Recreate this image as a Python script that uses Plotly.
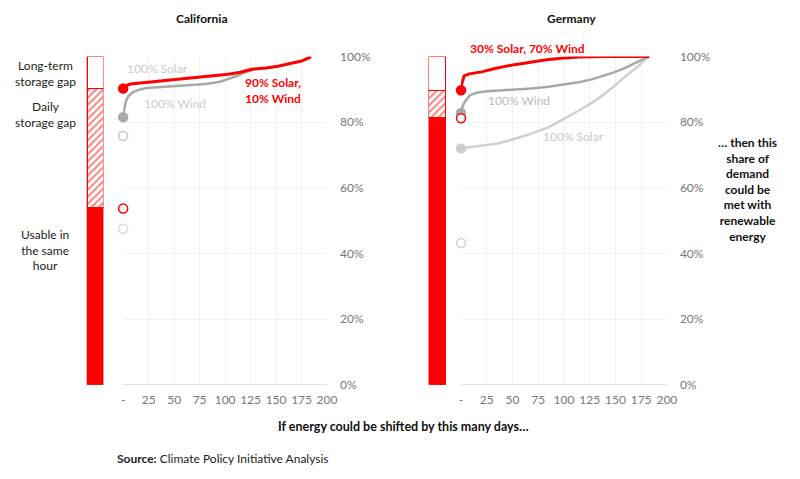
import plotly.graph_objects as go

W, H = 800, 479
FONT = "Lato"
RED = "#ff0000"
GRAY = "#a8a8a8"
LGRAY = "#cfcfcf"

# ---------------- data ----------------
days_ticks = [0, 25, 50, 75, 100, 125, 150, 175, 200]
days_ticktext = ["-", "25", "50", "75", "100", "125", "150", "175", "200"]
pct_ticks = [0, 20, 40, 60, 80, 100]
pct_ticktext = ["0%", "20%", "40%", "60%", "80%", "100%"]

# California, 90% Solar / 10% Wind
ca_mix_days = [0, 2, 7, 20, 35, 55, 75, 90, 103, 115, 126, 140, 152, 165, 175, 183, 184]
ca_mix_vals = [90.2, 91.0, 91.6, 92.0, 92.5, 93.1, 93.6, 94.0, 94.6, 95.2, 96.1, 96.5, 97.0, 97.9, 98.6, 99.7, 100.0]
# California, 100% Wind
ca_wind_days = [0, 1, 3, 6, 10, 16, 23, 40, 55, 70, 81, 95, 103, 112, 119, 129, 140, 152]
ca_wind_vals = [81.5, 84.0, 86.7, 88.2, 89.2, 89.9, 90.4, 90.7, 91.0, 91.3, 91.6, 92.3, 93.1, 94.1, 95.1, 96.1, 96.5, 97.0]
# California, same-hour values (open circles)
ca_same_hour_wind = 75.8
ca_same_hour_mix = 53.7
ca_same_hour_solar = 47.5

# Germany, 30% Solar / 70% Wind
de_mix_days = [0, 1, 3, 8, 20, 35, 52, 68, 83, 100, 115, 140, 183]
de_mix_vals = [89.7, 92.0, 94.1, 94.7, 95.3, 96.5, 97.5, 98.3, 99.0, 99.5, 99.8, 100.0, 100.0]
# Germany, 100% Wind
de_wind_days = [0, 1.5, 3.8, 8.6, 16, 26, 40, 51.7, 68, 83.5, 100, 115.5, 128, 137.8, 150, 160, 172, 182.5]
de_wind_vals = [82.8, 84.8, 86.2, 88.2, 89.0, 89.4, 89.7, 89.9, 90.2, 90.7, 91.4, 92.2, 93.1, 94.1, 95.3, 96.6, 98.3, 100.0]
# Germany, 100% Solar
de_solar_days = [0, 15, 35.7, 50, 67.7, 85, 99.5, 115, 131.4, 146, 160, 172, 182.5]
de_solar_vals = [72.0, 72.6, 73.5, 74.7, 76.4, 78.4, 80.8, 83.6, 86.7, 90.2, 94.0, 97.0, 100.0]
# Germany, same-hour values (open circles)
de_same_hour_mix = 81.2
de_same_hour_solar = 43.2

# Storage bars: same hour / daily gap / long-term gap
bar_segments = ["Usable in the same hour", "Daily storage gap", "Long-term storage gap"]
ca_bar = [54.0, 90.3 - 54.0, 100 - 90.3]
de_bar = [81.4, 89.7 - 81.4, 100 - 89.7]


def px(x):
    return x / W


def py(y):
    return 1 - y / H


fig = go.Figure()

YDOM = [90 / H, 429 / H]


def line(xs, ys, color, width, xa, ya):
    fig.add_trace(go.Scatter(x=xs, y=ys, mode="lines", line=dict(color=color, width=width),
                             xaxis=xa, yaxis=ya, hoverinfo="skip", showlegend=False, cliponaxis=False))


def dot(y, color, filled, xa, ya):
    fig.add_trace(go.Scatter(x=[0], y=[y], mode="markers",
                             marker=dict(size=9, color=color if filled else "white",
                                         line=dict(color=color, width=1.5)),
                             xaxis=xa, yaxis=ya, hoverinfo="skip", showlegend=False, cliponaxis=False))


# California
line(ca_wind_days, ca_wind_vals, GRAY, 2.5, "x", "y")
line(ca_mix_days, ca_mix_vals, RED, 3, "x", "y")
dot(ca_wind_vals[0], GRAY, True, "x", "y")
dot(ca_mix_vals[0], RED, True, "x", "y")
dot(ca_same_hour_wind, "#c4c4c4", False, "x", "y")
dot(ca_same_hour_mix, RED, False, "x", "y")
dot(ca_same_hour_solar, "#dddddd", False, "x", "y")

# Germany
line(de_solar_days, de_solar_vals, LGRAY, 2.5, "x2", "y2")
line(de_wind_days, de_wind_vals, GRAY, 2.5, "x2", "y2")
line(de_mix_days, de_mix_vals, RED, 3, "x2", "y2")
dot(de_solar_vals[0], LGRAY, True, "x2", "y2")
dot(de_wind_vals[0], GRAY, True, "x2", "y2")
dot(de_mix_vals[0], RED, True, "x2", "y2")
dot(de_same_hour_mix, RED, False, "x2", "y2")
dot(de_same_hour_solar, "#d0d0d0", False, "x2", "y2")

# Bars
fills = [
    dict(color=RED),
    dict(color="white", pattern=dict(shape="/", fgcolor=RED, bgcolor="white", size=5, solidity=0.4)),
    dict(color="white"),
]
for bar_vals, xa, ya in [(ca_bar, "x3", "y3"), (de_bar, "x4", "y4")]:
    for name, v, f in zip(bar_segments, bar_vals, fills):
        m = dict(f)
        m["line"] = dict(color=RED, width=1.2)
        fig.add_trace(go.Bar(x=[0], y=[v], width=1, marker=m, name=name, xaxis=xa, yaxis=ya,
                             hoverinfo="skip", showlegend=False))

xcommon = dict(range=[0, 200], tickvals=days_ticks, ticktext=days_ticktext, showgrid=True,
               gridcolor="#f0f0f0", gridwidth=1, zeroline=False, showline=False,
               tickfont=dict(family=FONT, size=12, color="#777"), ticks="", ticklabelstandoff=6,
               fixedrange=True)
ycommon = dict(range=[0, 100], domain=YDOM, tickvals=pct_ticks, ticktext=pct_ticktext, side="right",
               showgrid=True, gridcolor="#f0f0f0", zeroline=True, zerolinecolor="#e2e2e2",
               zerolinewidth=1, tickfont=dict(family=FONT, size=12, color="#777"), ticks="",
               ticklabelstandoff=12, showline=False)

bar_x = dict(range=[-0.52, 0.52], visible=False, fixedrange=True)
bar_y = dict(range=[0, 100], domain=YDOM, visible=False)

fig.update_layout(
    width=W, height=H, margin=dict(l=0, r=0, t=0, b=0),
    paper_bgcolor="white", plot_bgcolor="white",
    barmode="stack", showlegend=False,
    font=dict(family=FONT, size=12, color="#222"),
    xaxis=dict(xcommon, domain=[123 / W, 330 / W], anchor="y"),
    yaxis=dict(ycommon, anchor="x"),
    xaxis2=dict(xcommon, domain=[466 / W, 675 / W], anchor="y2"),
    yaxis2=dict(ycommon, anchor="x2"),
    xaxis3=dict(bar_x, domain=[86 / W, 103 / W], anchor="y3"),
    yaxis3=dict(bar_y, anchor="x3"),
    xaxis4=dict(bar_x, domain=[433 / W, 451 / W], anchor="y4"),
    yaxis4=dict(bar_y, anchor="x4"),
)


def ann(text, x, y, color="#222", size=12, bold=False, align="center", xanchor="center"):
    t = f"<b>{text}</b>" if bold else text
    fig.add_annotation(text=t, x=px(x), y=py(y), xref="paper", yref="paper", showarrow=False,
                       xanchor=xanchor, yanchor="middle", align=align,
                       font=dict(family=FONT, size=size, color=color))


ann("California", 203, 11, "#111", 12, True)
ann("Germany", 578, 11, "#111", 12, True)

ann("Long-term<br>storage gap", 44, 68)
ann("Daily<br>storage gap", 44, 110)
ann("Usable in<br>the same<br>hour", 44, 250)

ann("100% Solar", 158, 62, "#cccccc")
ann("100% Wind", 176, 99, "#cccccc")
ann("90% Solar,<br>10% Wind", 275, 85, RED, 12, True)

ann("30% Solar, 70% Wind", 533, 42, RED, 12, True)
ann("100% Wind", 525, 96, "#bbbbbb")
ann("100% Solar", 580, 133, "#c8c8c8")

ann("… then this<br>share of<br>demand<br>could be<br>met with<br>renewable<br>energy", 757, 187, "#111", 12, True)
ann("If energy could be shifted by this many days…", 408, 432, "#111", 12.5, True)
ann("<b>Source:</b> Climate Policy Initiative Analysis", 115, 465, "#222", 12, False, "left", "left")

fig.write_html("out.html", config={"responsive": False, "displayModeBar": False},
               post_script="document.body.style.margin='0';document.body.style.overflow='hidden';")
